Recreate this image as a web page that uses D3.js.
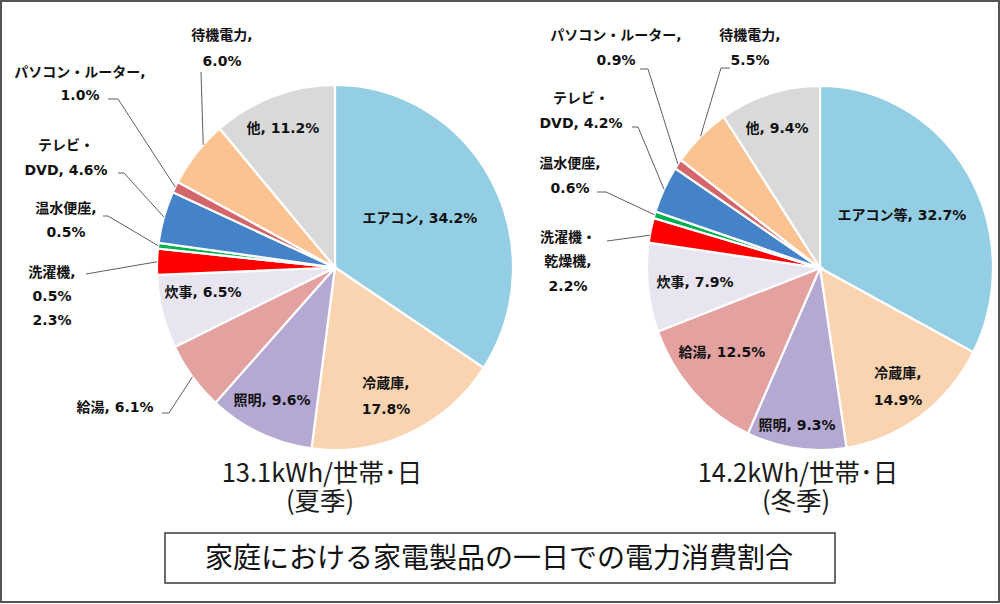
<!doctype html>
<html lang="ja">
<head>
<meta charset="utf-8">
<title>家庭における家電製品の一日での電力消費割合</title>
<style>
  html, body { margin: 0; padding: 0; background: #fff; }
  svg { display: block; }
</style>
</head>
<body>
<svg id="chart"></svg>
<script src="https://cdn.jsdelivr.net/npm/d3@7/dist/d3.min.js"></script>
<script>
// --- data ---
const summerNames  = ["エアコン", "冷蔵庫", "照明", "給湯", "炊事", "洗濯機", "温水便座", "テレビ・DVD", "パソコン・ルーター", "待機電力", "他"];
const summerValues = [34.2, 17.8, 9.6, 6.1, 6.5, 2.3, 0.5, 4.6, 1.0, 6.0, 11.2];
const summerLabels = [
  ["エアコン, 34.2%"], ["冷蔵庫,", "17.8%"], ["照明, 9.6%"], ["給湯, 6.1%"], ["炊事, 6.5%"],
  ["洗濯機,", "0.5%", "2.3%"], ["温水便座,", "0.5%"], ["テレビ・", "DVD, 4.6%"],
  ["パソコン・ルーター,", "1.0%"], ["待機電力,", "6.0%"], ["他, 11.2%"]
];

const winterNames  = ["エアコン等", "冷蔵庫", "照明", "給湯", "炊事", "洗濯機・乾燥機", "温水便座", "テレビ・DVD", "パソコン・ルーター", "待機電力", "他"];
const winterValues = [32.7, 14.9, 9.3, 12.5, 7.9, 2.2, 0.6, 4.2, 0.9, 5.5, 9.4];
const winterLabels = [
  ["エアコン等, 32.7%"], ["冷蔵庫,", "14.9%"], ["照明, 9.3%"], ["給湯, 12.5%"], ["炊事, 7.9%"],
  ["洗濯機・", "乾燥機,", "2.2%"], ["温水便座,", "0.6%"], ["テレビ・", "DVD, 4.2%"],
  ["パソコン・ルーター,", "0.9%"], ["待機電力,", "5.5%"], ["他, 9.4%"]
];

const summerCaption = ["13.1kWh/世帯･日", "(夏季)"];
const winterCaption = ["14.2kWh/世帯･日", "(冬季)"];
const chartTitle = "家庭における家電製品の一日での電力消費割合";

// --- styles / layout ---
const sliceColors = ["#93cee4", "#fad4b0", "#b5a8d2", "#e3a1a0", "#e8e5f1", "#ff0000",
                     "#00b050", "#4583c9", "#d4656a", "#fcc392", "#d9d9d9"];

// label centre, line height, leader [startX, startY, elbowX], anchor position within slice
const summerLayout = [
  {x: 420, y: 218}, {x: 386, y: 383, lh: 26}, {x: 272, y: 400},
  {x: 115, y: 407, leader: [162, 413, 169]}, {x: 203, y: 292},
  {x: 52, y: 272, lh: 24, leader: [86, 274, 86]},
  {x: 66, y: 208, lh: 24, leader: [103, 216, 108]},
  {x: 66, y: 145, lh: 25, leader: [118, 173, 124]},
  {x: 80, y: 72, lh: 23, leader: [108, 99, 118]},
  {x: 222, y: 35, lh: 26, leader: [201, 72, 201], at: 0.66},
  {x: 283, y: 128}
];
const winterLayout = [
  {x: 902, y: 215}, {x: 898, y: 373, lh: 27}, {x: 797, y: 425},
  {x: 722, y: 352}, {x: 695, y: 282},
  {x: 568, y: 237, lh: 24.5, leader: [607, 241, 607], at: 0.3},
  {x: 570, y: 163, lh: 25, leader: [597, 192, 606]},
  {x: 581, y: 98, lh: 25, leader: [632, 127, 638]},
  {x: 616, y: 35, lh: 25, leader: [640, 69, 648]},
  {x: 750, y: 35, lh: 25, leader: [730, 68, 721]},
  {x: 777, y: 128}
];

const W = 1000, H = 604;
const labelFont = "'DejaVu Sans', 'Noto Sans CJK JP', sans-serif";
const cjkFont = "'Noto Sans CJK JP', sans-serif";

const svg = d3.select("#chart")
  .attr("width", W)
  .attr("height", H)
  .attr("viewBox", [0, 0, W, H]);

svg.append("rect")
  .attr("width", W).attr("height", H)
  .attr("fill", "#fff");

function drawPie(names, values, labels, layout, caption, geo) {
  const pie = d3.pie().sort(null).value(d => d.value);
  const arcs = pie(names.map((n, i) => ({name: n, value: values[i], label: labels[i], i})));
  const arc = d3.arc().innerRadius(0).outerRadius(geo.ry);

  const g = svg.append("g")
    .attr("transform", `translate(${geo.cx},${geo.cy}) scale(${geo.rx / geo.ry},1)`);

  g.selectAll("path")
    .data(arcs)
    .join("path")
    .attr("d", arc)
    .attr("fill", d => sliceColors[d.data.i])
    .attr("stroke", "#fff")
    .attr("stroke-width", 2.2)
    .attr("vector-effect", "non-scaling-stroke");

  // leader lines
  const leaders = svg.append("g")
    .attr("fill", "none")
    .attr("stroke", "#5f5f5f")
    .attr("stroke-width", 1);
  arcs.forEach(d => {
    const lay = layout[d.data.i];
    if (!lay.leader) return;
    const f = lay.at == null ? 0.5 : lay.at;
    const a = d.startAngle + (d.endAngle - d.startAngle) * f;
    const ax = geo.cx + geo.rx * Math.sin(a);
    const ay = geo.cy - geo.ry * Math.cos(a);
    const [sx, sy, ex] = lay.leader;
    leaders.append("path")
      .attr("d", `M${sx},${sy}L${ex},${sy}L${ax},${ay}`);
  });

  // labels
  const lab = svg.append("g")
    .attr("font-family", labelFont)
    .attr("font-weight", "bold")
    .attr("font-size", 14)
    .attr("fill", "#111")
    .attr("text-anchor", "middle");
  arcs.forEach(d => {
    const lay = layout[d.data.i];
    const lh = lay.lh || 25;
    d.data.label.forEach((line, k) => {
      lab.append("text")
        .attr("x", lay.x)
        .attr("y", lay.y + k * lh)
        .attr("dy", "0.35em")
        .text(line);
    });
  });

  // caption under the pie (two lines in one text block)
  const cap = svg.append("text")
    .attr("font-family", cjkFont)
    .attr("font-size", 25.5)
    .attr("fill", "#1a1a1a")
    .attr("text-anchor", "middle");
  cap.append("tspan")
    .attr("x", geo.capX).attr("y", 473).attr("dy", "0.35em")
    .text(caption[0]);
  cap.append("tspan")
    .attr("x", geo.capX - 2).attr("y", 501).attr("dy", "0.35em")
    .text(caption[1]);
}

drawPie(summerNames, summerValues, summerLabels, summerLayout, summerCaption,
  {cx: 335, cy: 267.5, rx: 178, ry: 182.5, capX: 322});
drawPie(winterNames, winterValues, winterLabels, winterLayout, winterCaption,
  {cx: 820, cy: 268, rx: 173, ry: 182, capX: 798});

// title box
svg.append("rect")
  .attr("x", 165).attr("y", 533)
  .attr("width", 670).attr("height", 50)
  .attr("fill", "#fff")
  .attr("stroke", "#3a3a3a")
  .attr("stroke-width", 1.5);

svg.append("text")
  .attr("x", 499).attr("y", 558).attr("dy", "0.35em")
  .attr("text-anchor", "middle")
  .attr("font-family", cjkFont)
  .attr("font-size", 28)
  .attr("fill", "#111")
  .text(chartTitle);

// outer frame
svg.append("rect")
  .attr("x", 1).attr("y", 1)
  .attr("width", W - 2).attr("height", H - 3)
  .attr("fill", "none")
  .attr("stroke", "#555")
  .attr("stroke-width", 2);
</script>
</body>
</html>
